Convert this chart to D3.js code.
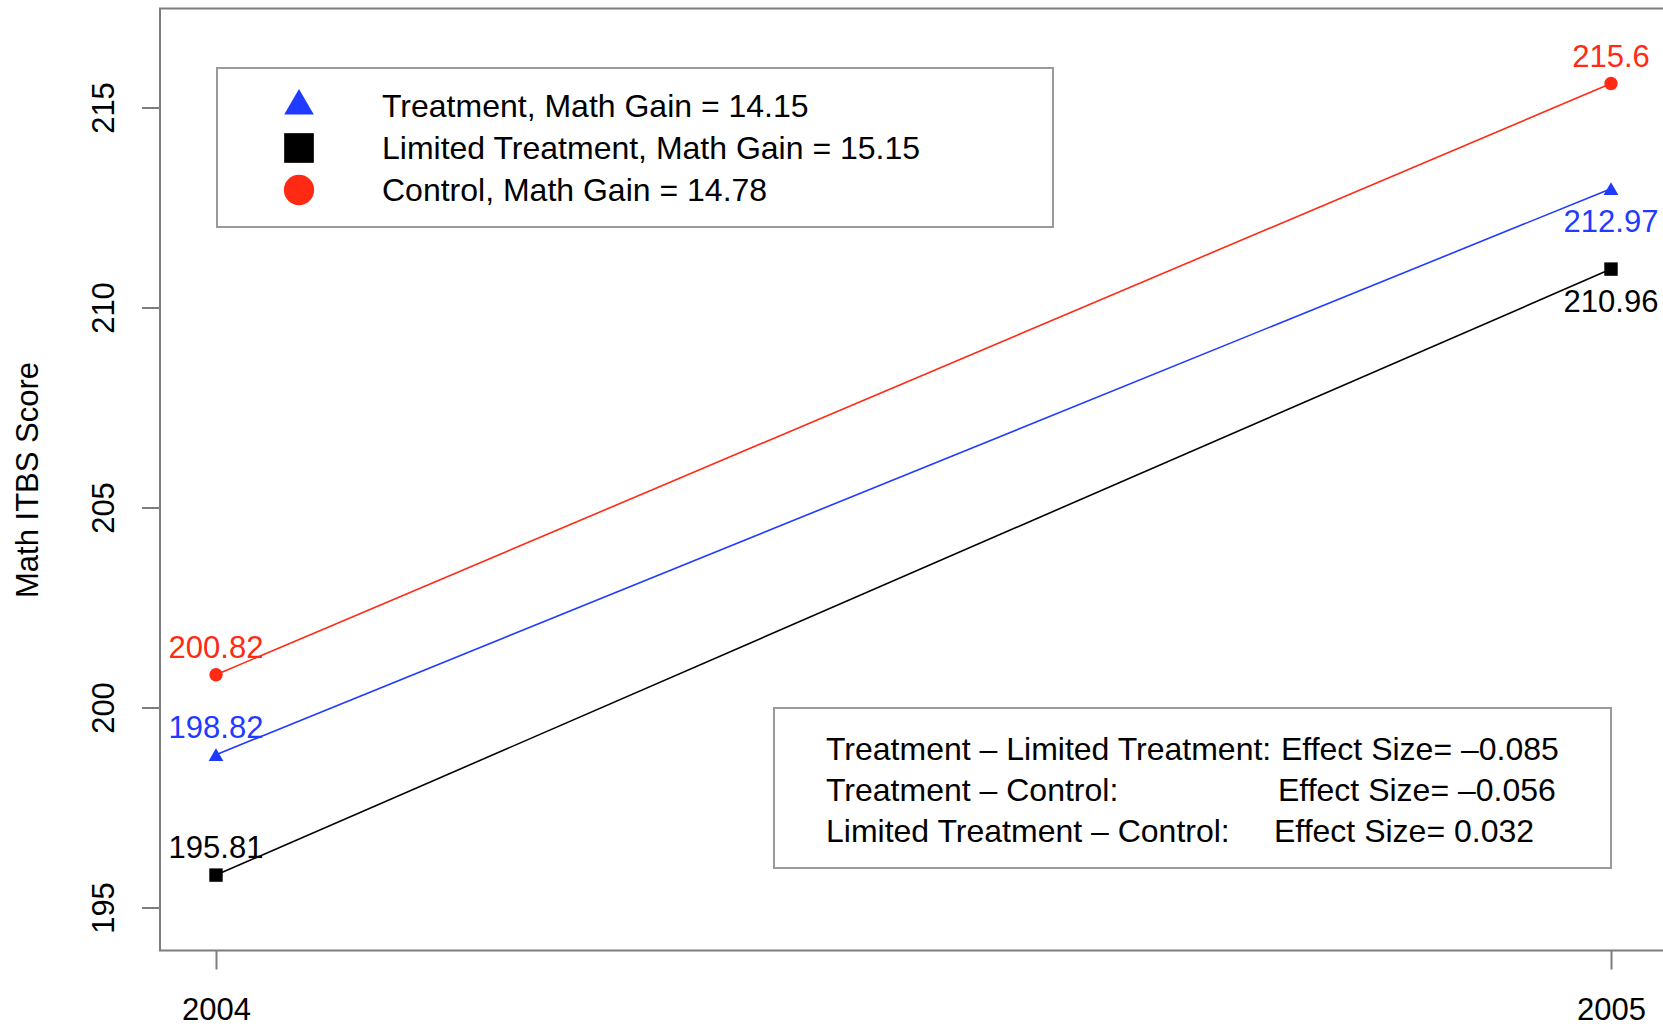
<!DOCTYPE html>
<html>
<head>
  <meta charset="UTF-8">
  <style>
    body { margin: 0; background: #fff; }
    text { font-family: "Liberation Sans", Arial, Helvetica, sans-serif; }
  </style>
</head>
<body>
<script src="https://d3js.org/d3.v7.min.js"></script>
<script>
var width = 1663, height = 1027;

// data
var years = [2004, 2005];
var groups = ["Treatment", "Limited Treatment", "Control"];
var treatment = [198.82, 212.97];
var limited = [195.81, 210.96];
var control = [200.82, 215.6];
var mathGain = [14.15, 15.15, 14.78];
var yTicks = [195, 200, 205, 210, 215];
var effectLabels = ["Treatment \u2013 Limited Treatment:", "Treatment \u2013 Control:", "Limited Treatment \u2013 Control:"];
var effectSizes = ["\u20130.085", "\u20130.056", "0.032"];

var series = [
  {name: groups[0], values: treatment, gain: mathGain[0], color: "#1f3bff", symbol: d3.symbolTriangle, above2005: false},
  {name: groups[1], values: limited, gain: mathGain[1], color: "#000000", symbol: d3.symbolSquare, above2005: false},
  {name: groups[2], values: control, gain: mathGain[2], color: "#ff2a14", symbol: d3.symbolCircle, above2005: true}
];

var svg = d3.select('body').append('svg').attr('width', width).attr('height', height);
svg.append('rect').attr('width', width).attr('height', height).attr('fill', '#fff');

var x = d3.scaleLinear().domain([2004, 2005]).range([216, 1611]);
var y = d3.scaleLinear().domain([195, 215]).range([907.5, 107.5]);

var frameLeft = 160, frameTop = 8.5, frameBottom = 950.5;
var axisColor = '#7d7d7d';

// plot box (right edge runs off the picture)
svg.append('path')
  .attr('d', 'M' + (width + 10) + ',' + frameTop + 'H' + frameLeft + 'V' + frameBottom + 'H' + (width + 10))
  .attr('fill', 'none').attr('stroke', axisColor).attr('stroke-width', 2);

// y axis
var yAxis = svg.append('g').attr('transform', 'translate(' + frameLeft + ',0)')
  .call(d3.axisLeft(y).tickValues(yTicks).tickSize(18).tickFormat(d3.format('d')));
yAxis.select('.domain').remove();
yAxis.selectAll('.tick line').attr('stroke', axisColor).attr('stroke-width', 2);
yAxis.selectAll('.tick text').remove();
yAxis.selectAll('.tick').append('text')
  .attr('transform', 'translate(-46,0) rotate(-90)')
  .attr('text-anchor', 'middle')
  .attr('fill', '#000')
  .style('font-size', '31px')
  .text(function(d) { return d; });

// x axis
var xAxis = svg.append('g').attr('transform', 'translate(0,' + frameBottom + ')')
  .call(d3.axisBottom(x).tickValues(years).tickSize(19).tickFormat(d3.format('d')));
xAxis.select('.domain').remove();
xAxis.selectAll('.tick line').attr('stroke', axisColor).attr('stroke-width', 2);
xAxis.selectAll('.tick text').attr('y', 0).attr('dy', '69px')
  .attr('fill', '#000').style('font-size', '31px')
  .attr('font-family', null);

// y title
svg.append('text')
  .attr('transform', 'translate(38,480) rotate(-90)')
  .attr('text-anchor', 'middle')
  .style('font-size', '31px')
  .text('Math ITBS Score');

// lines
var line = d3.line()
  .x(function(d, i) { return x(years[i]); })
  .y(function(d) { return y(d); });

svg.selectAll('path.series')
  .data(series)
  .join('path')
  .attr('class', 'series')
  .attr('d', function(d) { return line(d.values); })
  .attr('fill', 'none')
  .attr('stroke', function(d) { return d.color; })
  .attr('stroke-width', 1.6);

// points and value labels
series.forEach(function(s) {
  var g = svg.append('g');
  g.selectAll('path')
    .data(s.values)
    .join('path')
    .attr('transform', function(d, i) {
      var dy = s.symbol === d3.symbolTriangle ? 2 : 0;
      return 'translate(' + x(years[i]) + ',' + (y(d) + dy) + ')';
    })
    .attr('d', d3.symbol().type(s.symbol).size(s.symbol === d3.symbolSquare ? 180 : (s.symbol === d3.symbolTriangle ? 95 : 140)))
    .attr('fill', s.color);
  g.selectAll('text')
    .data(s.values)
    .join('text')
    .attr('x', function(d, i) { return x(years[i]); })
    .attr('y', function(d, i) {
      var above = i === 0 || s.above2005;
      return above ? y(d) - 17 : y(d) + 43;
    })
    .attr('text-anchor', 'middle')
    .attr('fill', s.color)
    .style('font-size', '31px')
    .text(function(d) { return d; });
});

// legend with math gains
var leg = svg.append('g');
leg.append('rect').attr('x', 217).attr('y', 68).attr('width', 836).attr('height', 159)
  .attr('fill', '#fff').attr('stroke', '#9a9a9a').attr('stroke-width', 2);
var legRows = [106, 148, 190];
leg.selectAll('path')
  .data(series)
  .join('path')
  .attr('transform', function(d, i) { return 'translate(299,' + legRows[i] + ')'; })
  .attr('d', function(d) {
    var sz = d.symbol === d3.symbolSquare ? 880 : (d.symbol === d3.symbolTriangle ? 380 : 720);
    return d3.symbol().type(d.symbol).size(sz)();
  })
  .attr('fill', function(d) { return d.color; });
leg.selectAll('text')
  .data(series)
  .join('text')
  .attr('x', 382)
  .attr('y', function(d, i) { return legRows[i] + 11; })
  .style('font-size', '32px')
  .text(function(d) { return d.name + ', Math Gain = ' + d.gain; });

// legend with effect sizes
var eff = svg.append('g');
eff.append('rect').attr('x', 774).attr('y', 708).attr('width', 837).attr('height', 160)
  .attr('fill', '#fff').attr('stroke', '#9a9a9a').attr('stroke-width', 2);
var effRows = [749, 790, 831];
eff.selectAll('text.lab')
  .data(effectLabels)
  .join('text')
  .attr('class', 'lab')
  .attr('x', 826)
  .attr('y', function(d, i) { return effRows[i] + 11; })
  .style('font-size', '32px')
  .text(function(d) { return d; });
eff.selectAll('text.val')
  .data(effectSizes)
  .join('text')
  .attr('class', 'val')
  .attr('x', function(d, i) { return [1281, 1278, 1274][i]; })
  .attr('y', function(d, i) { return effRows[i] + 11; })
  .style('font-size', '32px')
  .text(function(d) { return 'Effect Size= ' + d; });
</script>
</body>
</html>
